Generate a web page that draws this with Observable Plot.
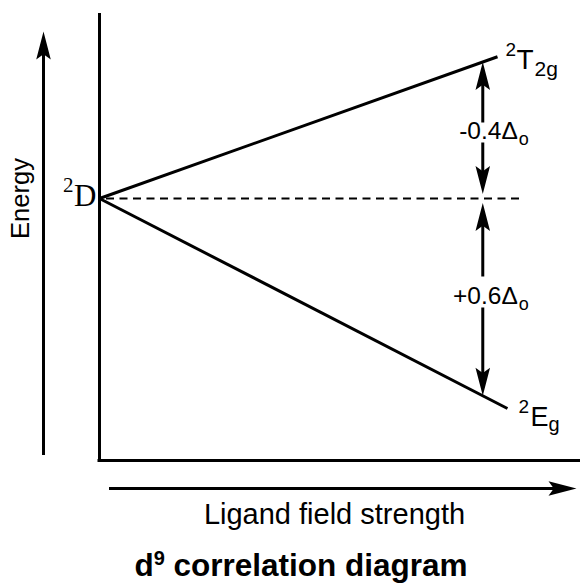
<!DOCTYPE html>
<html><head><meta charset="utf-8">
<script src="https://cdn.jsdelivr.net/npm/d3@7"></script>
<script src="https://cdn.jsdelivr.net/npm/@observablehq/plot@0.6"></script>
<style>
body{margin:0;background:#fff;}
#wrap{position:relative;width:580px;height:586px;overflow:hidden;}
#title{position:absolute;left:11px;top:547px;width:580px;text-align:center;font-family:"Liberation Sans",Arial,sans-serif;font-weight:bold;font-size:31.5px;color:#000;line-height:36px;white-space:nowrap;}
#title sup{font-size:20px;vertical-align:super;line-height:0;}
</style></head><body><div id="wrap"><div id="title"></div></div>
<script>
// ---- data ----
const groundState = "D";                 // ²D free-ion term
const states = ["T", "E"];               // split terms
const stateSubs = ["2g", "g"];
const endStrength = [1.0, 1.025];        // ligand-field strength at line ends
const endEnergy = [0.405, -0.6];         // energies at line ends (relative to ²D)
const splitLabels = ["-0.4\u0394", "+0.6\u0394"];
const splitLabelEnergy = [0.169, -0.3];
const arrowStrength = 0.963;
const axisLabels = ["Energy", "Ligand field strength"];
const titleParts = ["d", "9", " correlation diagram"];

// ---- helpers ----
const energyAt = (i, x) => endEnergy[i] * x / endStrength[i];
const FS = "Liberation Sans, Arial, sans-serif";
const SERIF = "Liberation Serif, Times New Roman, serif";
const px2x = p => (p - 99) / 398;
const px2y = p => (198 - p) / 350;

const arrowHead = {
  draw(ctx, size) {
    const r = Math.sqrt(size / Math.PI);
    const L = 2 * r, W = 0.52 * r, N = 0.38 * r;
    ctx.moveTo(0, 0); ctx.lineTo(W, L); ctx.lineTo(0, L - N); ctx.lineTo(-W, L); ctx.closePath();
  }
};

// frame + outer arrows
const frameTop = px2y(13), frameBottom = px2y(460), frameRight = px2x(582);
const eArrowX = px2x(43), eArrowTop = px2y(31), eArrowBottom = px2y(455);
const fArrowY = px2y(488), fArrowLeft = px2x(109), fArrowRight = px2x(576);

const lines = states.map((s, i) => ({x1: 0, y1: 0, x2: endStrength[i], y2: endEnergy[i]}));

const tipT = energyAt(0, arrowStrength), tipE = energyAt(1, arrowStrength);
const gap = 0.013;
const shafts = [
  {y1: tipT - 0.06, y2: px2y(122)},
  {y1: px2y(142), y2: gap + 0.06},
  {y1: -gap - 0.06, y2: px2y(276)},
  {y1: px2y(307), y2: tipE + 0.06}
];
const heads = [
  {x: eArrowX, y: eArrowTop, r: 0},
  {x: fArrowRight, y: fArrowY, r: 90},
  {x: arrowStrength, y: tipT, r: 0},
  {x: arrowStrength, y: gap, r: 180},
  {x: arrowStrength, y: -gap, r: 0},
  {x: arrowStrength, y: tipE, r: 180}
];

// term label pieces: [text, dx, dy, fontSize] relative to each line end
const termPieces = [
  [["2", 8, -1, 19], [states[0], 19, 12, 28], [stateSubs[0], 37, 19, 21]],
  [["2", 11, 4, 19], [states[1], 23, 17, 27], [stateSubs[1], 41, 22, 20]]
];
const termMarks = termPieces.flatMap((pieces, i) => pieces.map(([txt, dx, dy, fs]) =>
  Plot.text([txt], {x: endStrength[i], y: endEnergy[i], text: d => d, dx, dy, textAnchor: "start", lineAnchor: "bottom", fontFamily: FS, fontSize: fs})
));
const splitMarks = splitLabels.flatMap((lab, i) => [
  Plot.text([lab], {x: arrowStrength, y: splitLabelEnergy[i], text: d => d, dx: 35, textAnchor: "end", lineAnchor: "bottom", fontFamily: FS, fontSize: 24.5}),
  Plot.text(["o"], {x: arrowStrength, y: splitLabelEnergy[i], text: d => d, dx: 36, dy: 6, textAnchor: "start", lineAnchor: "bottom", fontFamily: FS, fontSize: 18})
]);

const chart = Plot.plot({
  width: 580, height: 540, margin: 0,
  x: {domain: [0, 1], range: [99, 497], axis: null},
  y: {domain: [-1, 1], range: [548, -152], axis: null},
  style: {background: "white", overflow: "visible"},
  marks: [
    Plot.ruleX([0], {y1: frameBottom, y2: frameTop, strokeWidth: 3}),
    Plot.ruleY([frameBottom], {x1: px2x(97.5), x2: frameRight, strokeWidth: 3}),
    Plot.ruleX([eArrowX], {y1: eArrowBottom, y2: eArrowTop - 0.05, strokeWidth: 3}),
    Plot.ruleY([fArrowY], {x1: fArrowLeft, x2: fArrowRight - 0.05, strokeWidth: 3}),
    Plot.ruleY([0], {x1: px2x(106), x2: px2x(519), strokeWidth: 2, strokeDasharray: "8,5.5"}),
    Plot.link(lines, {x1: "x1", y1: "y1", x2: "x2", y2: "y2", strokeWidth: 3}),
    Plot.link(shafts, {x1: arrowStrength, x2: arrowStrength, y1: "y1", y2: "y2", strokeWidth: 3}),
    Plot.dot(heads, {x: "x", y: "y", rotate: "r", r: 14, symbol: arrowHead, fill: "black", stroke: null}),
    Plot.text([groundState], {x: 0, y: 0, text: d => d, dx: -3, dy: 7, textAnchor: "end", lineAnchor: "bottom", fontFamily: SERIF, fontSize: 31}),
    Plot.text(["2"], {x: 0, y: 0, text: d => d, dx: -26, dy: -7, textAnchor: "end", lineAnchor: "bottom", fontFamily: SERIF, fontSize: 21}),
    ...termMarks,
    ...splitMarks,
    Plot.text([axisLabels[0]], {x: px2x(28), y: 0, text: d => d, rotate: -90, textAnchor: "middle", lineAnchor: "bottom", fontFamily: FS, fontSize: 25.5}),
    Plot.text([axisLabels[1]], {x: px2x(334), y: px2y(523), text: d => d, textAnchor: "middle", lineAnchor: "bottom", fontFamily: FS, fontSize: 29})
  ]
});
chart.style.position = "absolute"; chart.style.left = "0"; chart.style.top = "0";
document.getElementById("wrap").prepend(chart);
const t = document.getElementById("title");
t.append(titleParts[0]);
const sup = document.createElement("sup"); sup.textContent = titleParts[1]; t.append(sup);
t.append(titleParts[2]);
</script></body></html>
